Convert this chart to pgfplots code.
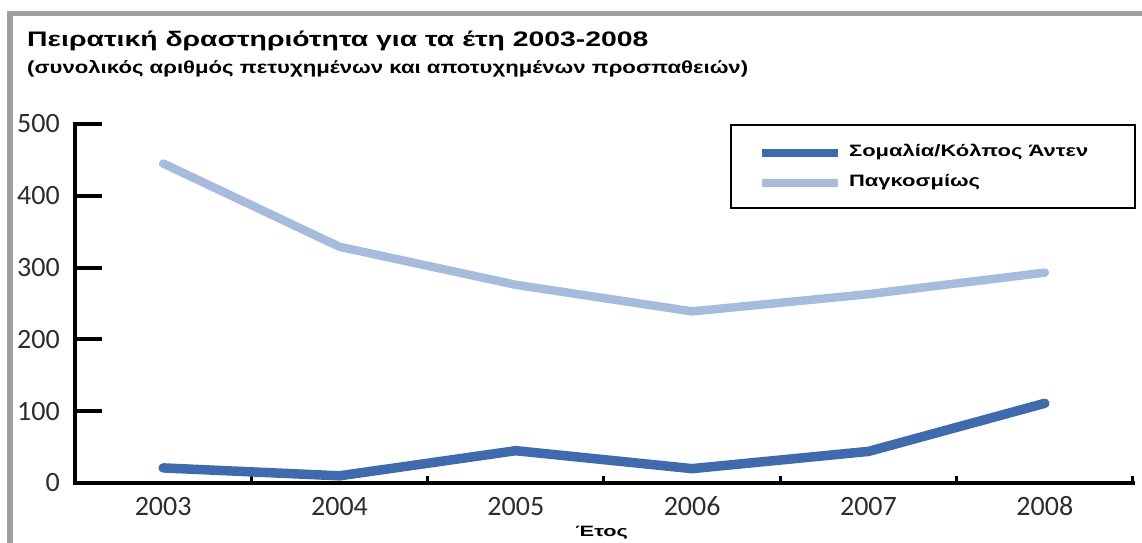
\documentclass[border=0pt]{standalone}
\usepackage{graphicx}
\usepackage{pgfplots}
\pgfplotsset{compat=1.18}
\usepackage{fontspec}
\setmainfont{Liberation Sans}
\newfontfamily\ticksfont{Carlito}
\definecolor{somalia}{RGB}{63,106,173}
\definecolor{world}{RGB}{167,187,221}
\definecolor{framegray}{RGB}{160,160,160}
\definecolor{ticktext}{RGB}{45,45,45}
% wide bold lettering used for titles and legend
\newcommand{\wide}[2]{\scalebox{#1}[1]{#2}}

\begin{document}
\begin{tikzpicture}
% page area and grey frame (top and left)
\path[use as bounding box, fill=white] (0bp,0bp) rectangle (1142bp,543bp);
\fill[framegray] (7bp,527bp) rectangle (1142bp,532bp);
\fill[framegray] (7bp,0bp) rectangle (13bp,532bp);

% titles
\node[anchor=base west, inner sep=0pt, font=\bfseries\fontsize{21bp}{25bp}\selectfont]
  at (27bp,496bp) {\wide{1.35}{Πειρατική δραστηριότητα για τα έτη 2003-2008}};
\node[anchor=base west, inner sep=0pt, font=\bfseries\fontsize{17.5bp}{20bp}\selectfont]
  at (27bp,469bp) {\wide{1.265}{(συνολικός αριθμός πετυχημένων και αποτυχημένων προσπαθειών)}};

% legend frame
\draw[black, line width=2.5bp] (731bp,418bp) rectangle (1135bp,335bp);

\begin{axis}[
  at={(75bp,60bp)}, anchor=south west,
  scale only axis, width=1058bp, height=359bp,
  xmin=-0.5, xmax=5.5, ymin=0, ymax=500,
  clip=false,
  axis x line=bottom, axis y line=left,
  axis line style={-, black, line cap=rect},
  x axis line style={line width=4bp},
  y axis line style={line width=4.5bp},
  xtick={0,1,2,3,4,5},
  xticklabels={2003,2004,2005,2006,2007,2008},
  minor xtick={-0.5,0.5,1.5,2.5,3.5,4.5,5.5},
  ytick={0,100,200,300,400,500},
  tick align=inside,
  major tick length=27bp, minor tick length=7bp,
  major x tick style={draw=none},
  minor x tick style={line width=3bp, black},
  major y tick style={line width=4bp, black},
  /pgf/number format/assume math mode=true,
  tick label style={font=\ticksfont\fontsize{28bp}{30bp}\selectfont, text=ticktext, inner sep=0pt},
  xticklabel style={anchor=base, yshift=-32bp},
  yticklabel style={anchor=east, xshift=-15bp},
  xlabel={\wide{1.45}{Έτος}},
  every axis x label/.style={at={(axis description cs:0.498,0)}, anchor=base,
    yshift=-53bp, font=\bfseries\fontsize{15bp}{17bp}\selectfont, inner sep=0pt},
  legend cell align=left,
  legend style={draw=none, fill=none, at={(axis description cs:0.6455,0.943)},
    anchor=north west, inner sep=0pt, row sep=14bp, column sep=7bp,
    nodes={inner sep=0pt, text height=12bp, text depth=4bp},
    font=\bfseries\fontsize{16.5bp}{19bp}\selectfont},
  legend image code/.code={\draw[#1, line width=8bp, line cap=butt] (0bp,0bp) -- (76bp,0bp);},
]
\addplot[somalia, line width=9.5bp, line cap=round, line join=round]
  coordinates {(0,21) (1,10) (2,45) (3,20) (4,44) (5,111)};
\addlegendentry{\wide{1.33}{Σομαλία/Κόλπος Άντεν}}
\addplot[world, line width=8.5bp, line cap=round, line join=round]
  coordinates {(0,445) (1,329) (2,276) (3,239) (4,263) (5,293)};
\addlegendentry{\wide{1.33}{Παγκοσμίως}}
\end{axis}
\end{tikzpicture}
\end{document}
